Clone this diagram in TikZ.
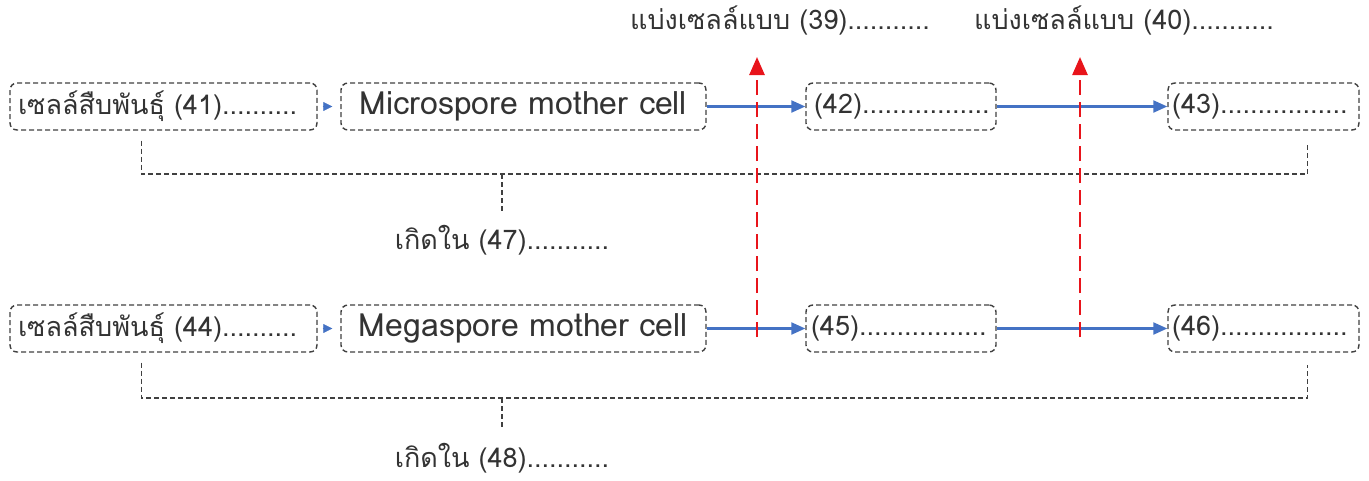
\documentclass[tikz,border=0pt]{standalone}
\usepackage{fontspec}
\setmainfont[Script=Thai]{Loma}
\usetikzlibrary{arrows.meta,calc}
\definecolor{boxgray}{HTML}{404040}
\definecolor{arrblue}{HTML}{4472C4}
\definecolor{arrred}{HTML}{E8141B}
\definecolor{txtgray}{HTML}{333333}
\tikzset{
  cellbox/.style={draw=boxgray, line width=1.4pt, dash pattern=on 5pt off 3pt, rounded corners=7pt,
    minimum height=47pt, inner ysep=0pt, align=left, text=txtgray, font=\fontsize{27}{30}\selectfont},
  bigbox/.style={cellbox, font=\fontsize{32}{36}\selectfont},
  bracketline/.style={draw=boxgray, line width=1.3pt, dash pattern=on 5pt off 3pt},
  flow/.style={draw=arrblue, line width=2.2pt, -{Triangle[length=14pt,width=12pt]}},
  smallflow/.style={draw=arrblue, line width=0.6pt, -{Triangle[length=9pt,width=9pt]}},
  divide/.style={draw=arrred, line width=2.6pt, dash pattern=on 15pt off 7pt, -{Triangle[length=18pt,width=15pt]}},
  lbl/.style={text=txtgray, font=\fontsize{27}{30}\selectfont, inner sep=0pt}
}
\begin{document}
\begin{tikzpicture}[x=1pt,y=-1pt]
\useasboundingbox (0,0) rectangle (1369,480);
% top row
\node[cellbox, text width=291pt, inner xsep=8pt] (A1) at (163.5,106.5) {เซลล์สืบพันธุ์ (41)..........};
\node[bigbox, text width=349pt, inner xsep=8pt, align=center] (B1) at (523.5,106.5) {Microspore mother cell};
\node[cellbox, text width=174pt, inner xsep=8pt] (C1) at (901,106.5) {(42).................};
\node[cellbox, text width=183pt, inner xsep=4pt] (D1) at (1263.5,106.5) {(43).................};
% bottom row
\node[cellbox, text width=291pt, inner xsep=8pt] (A2) at (163.5,328.5) {เซลล์สืบพันธุ์ (44)..........};
\node[bigbox, text width=349pt, inner xsep=8pt, align=center] (B2) at (523.5,328.5) {Megaspore mother cell};
\node[cellbox, text width=180pt, inner xsep=5pt] (C2) at (901,328.5) {(45).................};
\node[cellbox, text width=183pt, inner xsep=4pt] (D2) at (1263.5,328.5) {(46).................};
% labels
\node[lbl] (L39) at (780,20) {แบ่งเซลล์แบบ (39)...........};
\node[lbl] (L40) at (1124,20) {แบ่งเซลล์แบบ (40)...........};
\node[lbl] (L47) at (502,240) {เกิดใน (47)...........};
\node[lbl] (L48) at (502,458) {เกิดใน (48)...........};
% flow arrows
\draw[smallflow, shorten >=8pt, shorten <=5pt] (A1.east) -- (B1.west);
\draw[smallflow, shorten >=8pt, shorten <=5pt] (A2.east) -- (B2.west);
\draw[flow] (B1.east) -- (C1.west);
\draw[flow] (C1.east) -- (D1.west);
\draw[flow] (B2.east) -- (C2.west);
\draw[flow] (C2.east) -- (D2.west);
% brackets
\coordinate (m1) at (502,174);
\coordinate (m2) at (502,398);
\draw[bracketline, shorten <=10pt, shorten >=12pt] ([xshift=132pt]A1.south west) |- (m1) -| ([xshift=-52pt]D1.south east);
\draw[bracketline, shorten >=14pt] (m1) -- (L47.north);
\draw[bracketline, shorten <=10pt, shorten >=12pt] ([xshift=132pt]A2.south west) |- (m2) -| ([xshift=-52pt]D2.south east);
\draw[bracketline, shorten >=14pt] (m2) -- (L48.north);
% division arrows
\coordinate (r1s) at (757,337);
\coordinate (r1e) at (757,57);
\coordinate (r2s) at (1080,337);
\coordinate (r2e) at (1080,57);
\draw[divide] (r1s) -- (r1e);
\draw[divide] (r2s) -- (r2e);
\end{tikzpicture}
\end{document}
